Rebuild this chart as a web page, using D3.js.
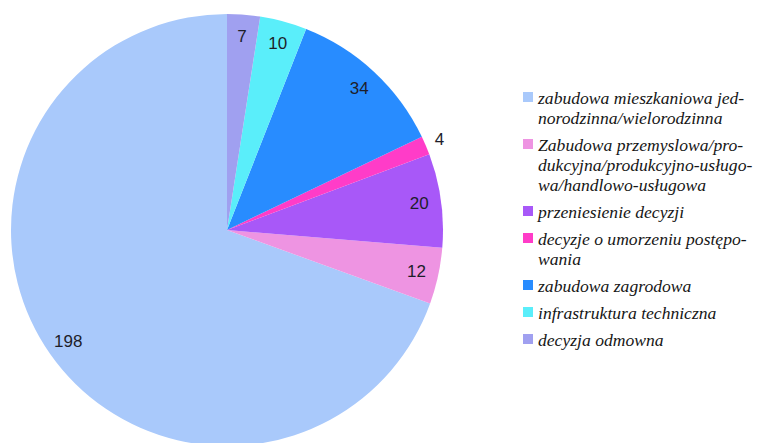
<!DOCTYPE html>
<html><head><meta charset="utf-8">
<script src="https://cdn.jsdelivr.net/npm/d3@7"></script>
<style>html,body{margin:0;padding:0;background:#fff;}svg{display:block;}</style>
</head><body>
<svg id="chart" width="763" height="443"></svg>
<script>
const categories = [
  ["zabudowa mieszkaniowa jed-", "norodzinna/wielorodzinna"],
  ["Zabudowa przemyslowa/pro-", "dukcyjna/produkcyjno-usługo-", "wa/handlowo-usługowa"],
  ["przeniesienie decyzji"],
  ["decyzje o umorzeniu postępo-", "wania"],
  ["zabudowa zagrodowa"],
  ["infrastruktura techniczna"],
  ["decyzja odmowna"]
];
const values = [198, 12, 20, 4, 34, 10, 7];
const colors = ["#a9c9fb", "#ee94e2", "#a858f8", "#ff3cc8", "#288cff", "#5aeefa", "#a0a0f0"];

const svg = d3.select("#chart");
const cx = 227, cy = 230, R = 216;
const data = values.map((v, i) => ({v, i}));
const pie = d3.pie().value(d => d.v).sort(null).startAngle(0).endAngle(-2 * Math.PI);
const arcs = pie(data);
const arc = d3.arc().innerRadius(0).outerRadius(R);
const g = svg.append("g").attr("transform", `translate(${cx},${cy})`);
g.selectAll("path").data(arcs).join("path")
  .attr("d", arc).attr("fill", d => colors[d.data.i]);

const inner = d3.arc().innerRadius(194).outerRadius(194);
const outer = d3.arc().innerRadius(231).outerRadius(231);
g.selectAll("text").data(arcs).join("text")
  .attr("transform", d => {
    const c = (d.data.v < 5 ? outer : inner).centroid(d);
    return `translate(${c[0]},${c[1]})`;
  })
  .attr("text-anchor", "middle").attr("dy", "0.34em")
  .attr("font-family", "'Liberation Sans', Arial, sans-serif")
  .attr("font-size", 17).attr("fill", "#1e1e2a")
  .text(d => d.data.v);

const lg = svg.append("g");
let y = 98;
categories.forEach((lines, i) => {
  lg.append("rect").attr("x", 523).attr("y", y - 6).attr("width", 10).attr("height", 10)
    .attr("fill", colors[i]);
  lines.forEach((t, j) => {
    lg.append("text").attr("x", 538).attr("y", y + j * 20).attr("dy", "0.32em")
      .attr("font-family", "'Liberation Serif', 'Times New Roman', serif")
      .attr("font-style", "italic").attr("font-size", 17.6).attr("fill", "#161616")
      .text(t);
  });
  y += (lines.length - 1) * 20 + 27;
});
</script>
</body></html>
